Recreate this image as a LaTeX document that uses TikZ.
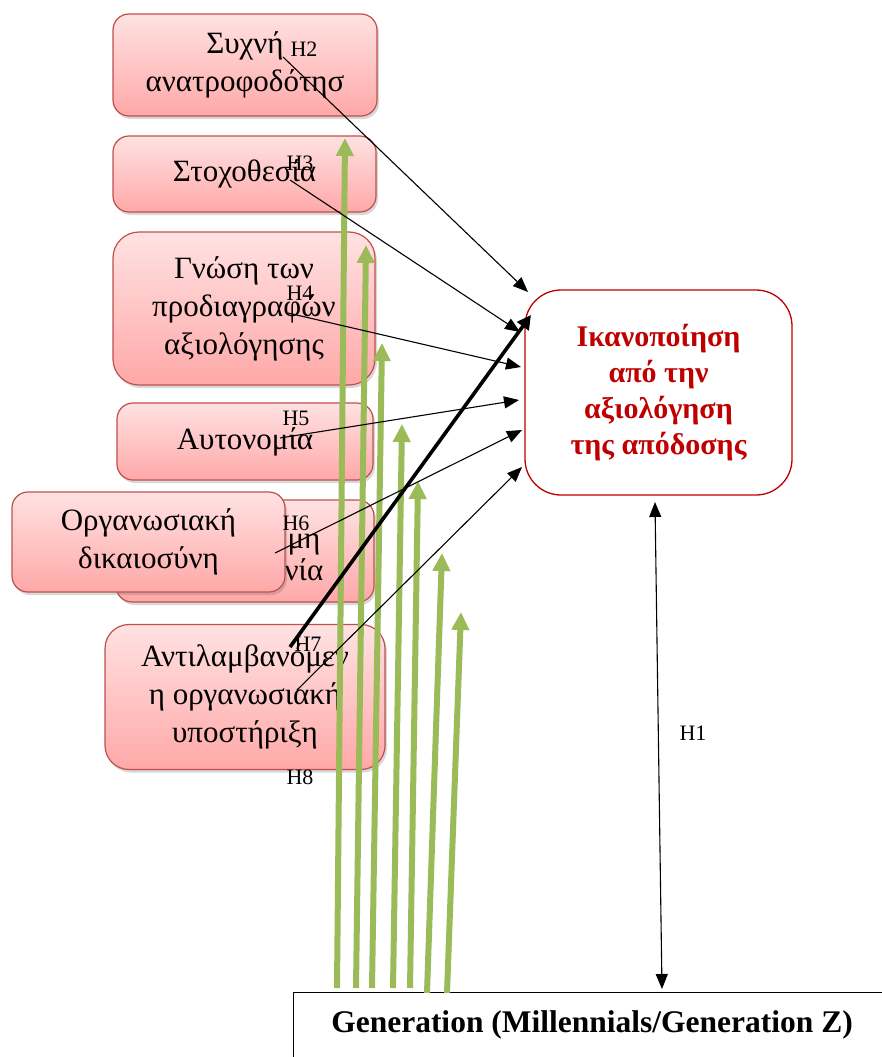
\documentclass[tikz,border=0pt]{standalone}
\usepackage{fontspec}
\setmainfont{Liberation Serif}
\usetikzlibrary{arrows.meta,shadows}
\definecolor{boxborder}{RGB}{192,80,77}
\definecolor{boxtop}{RGB}{255,226,226}
\definecolor{boxbot}{RGB}{255,168,168}
\definecolor{darkred}{RGB}{192,0,0}
\definecolor{grn}{RGB}{155,187,89}
\begin{document}
\begin{tikzpicture}[x=1pt,y=-1pt,
  factor/.style={draw=boxborder, line width=1.2pt, rounded corners=16pt,
    top color=boxtop, bottom color=boxbot, align=center, inner sep=0pt,
    font=\fontsize{31}{38}\selectfont,
    drop shadow={shadow xshift=2pt, shadow yshift=-3pt, opacity=0.25, fill=black!60}},
  hlabel/.style={font=\fontsize{22}{24}\selectfont, inner sep=0pt},
  link/.style={draw=black, line width=1.1pt, -{Triangle[length=15pt,width=12pt]}},
  boldlink/.style={draw=black, line width=3.6pt, -{Triangle[length=14pt,width=14pt]}},
  grnarrow/.style={draw=grn, line width=6pt, -{Triangle[length=18pt,width=17pt]}}
]
\useasboundingbox (0,0) rectangle (882,1057);
\fill[white] (0,0) rectangle (882,1057);

% antecedent boxes
\node[factor, minimum width=264pt, minimum height=102pt] (fb) at (245,65) {Συχνή\\ανατροφοδότησ};
\node[factor, minimum width=263pt, minimum height=76pt] (goal) at (244.5,174) {Στοχοθεσία};
\node[factor, minimum width=262pt, minimum height=153pt, rounded corners=26pt] (spec) at (244,308.5) {Γνώση των\\προδιαγραφών\\αξιολόγησης};
\node[factor, minimum width=256pt, minimum height=77pt] (auto) at (245,441.5) {Αυτονομία};
\node[factor, minimum width=258pt, minimum height=102pt] (back) at (245,551) {};
\node[font=\fontsize{31}{32}\selectfont, align=center, inner sep=0pt] (backtxt) at (304,557) {μη\\νία};
\node[factor, minimum width=273pt, minimum height=100pt] (just) at (148.5,542) {Οργανωσιακή\\δικαιοσύνη};
\node[factor, minimum width=280pt, minimum height=145pt, rounded corners=24pt] (supp) at (245,697) {Αντιλαμβανόμεν\\η οργανωσιακή\\υποστήριξη};

% outcome box
\node[draw=darkred, line width=1.3pt, fill=white, rounded corners=36pt,
  minimum width=267pt, minimum height=205pt, align=center, inner sep=0pt,
  text=darkred, font=\bfseries\fontsize{30}{36}\selectfont] (sat) at (658.5,392.5)
  {Ικανοποίηση\\από την\\αξιολόγηση\\της απόδοσης};

% moderator box
\node[draw=black, line width=1.4pt, fill=white, anchor=north west, inner sep=0pt,
  minimum width=600pt, minimum height=80pt] (gen) at (293,992) {};
\node[font=\bfseries\fontsize{31.5}{34}\selectfont, inner sep=0pt] (gentxt) at (592,1025) {Generation (Millennials/Generation Z)};

% moderating arrows
\foreach \i/\bx/\by/\tx/\ty in {1/337/988/345/138, 2/356/988/366/245, 3/372/988/382/343,
    4/393/988/402/424, 5/410/988/418/481, 6/427/993/442/553, 7/447/993/461/612} {
  \coordinate (g\i b) at (\bx,\by);
  \coordinate (g\i t) at (\tx,\ty);
  \draw[grnarrow] (g\i b) -- (g\i t);
}

% hypothesis arrows
\coordinate (s2) at (283,57);  \coordinate (e2) at (528,292);
\coordinate (s3) at (290,180); \coordinate (e3) at (520,332);
\coordinate (s4) at (288,313); \coordinate (e4) at (521,367);
\coordinate (s5) at (280,438); \coordinate (e5) at (519,400);
\coordinate (s6) at (275,553); \coordinate (e6) at (522,430);
\coordinate (s7) at (290,647); \coordinate (e7) at (531,315);
\coordinate (s8) at (297,690); \coordinate (e8) at (522,467);
\draw[link] (s2) -- (e2);
\draw[link] (s3) -- (e3);
\draw[link] (s4) -- (e4);
\draw[link] (s5) -- (e5);
\draw[link] (s6) -- (e6);
\draw[boldlink] (s7) -- (e7);
\draw[link] (s8) -- (e8);

\coordinate (h1a) at (655,502);
\coordinate (h1b) at (662,989);
\draw[line width=1.1pt, {Triangle[length=15pt,width=12pt]}-{Triangle[length=15pt,width=12pt]}] (h1a) -- (h1b);

% hypothesis labels
\node[hlabel] (lH1) at (693,733) {H1};
\node[hlabel] (lH2) at (304,49) {H2};
\node[hlabel] (lH3) at (300,163) {H3};
\node[hlabel] (lH4) at (300,293) {H4};
\node[hlabel] (lH5) at (296,418) {H5};
\node[hlabel] (lH6) at (296,523) {H6};
\node[hlabel] (lH7) at (308,644) {H7};
\node[hlabel] (lH8) at (300,777) {H8};
\end{tikzpicture}
\end{document}
